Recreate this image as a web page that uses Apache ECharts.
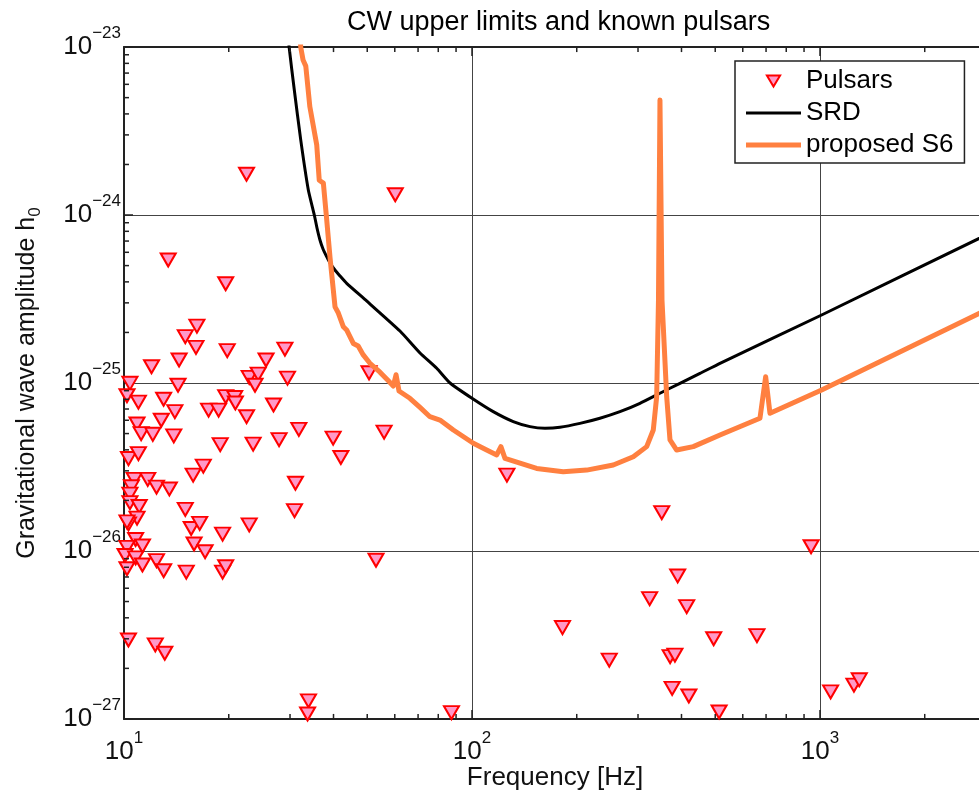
<!DOCTYPE html>
<html><head><meta charset="utf-8">
<script src="https://cdn.jsdelivr.net/npm/echarts/dist/echarts.min.js"></script>
<style>html,body{margin:0;padding:0;background:#fff}#c{width:979px;height:794px}#err{position:absolute;left:200px;top:300px;font:14px monospace;color:#00f;white-space:pre-wrap;width:700px}</style>
</head><body><div id="c"></div><div id="err"></div>
<script>
// ---- data ----
const pulsarFreq = [22.5, 60.2, 13.4, 19.6, 16.2, 15.0, 16.1, 14.4, 12.0, 19.8,
  29.0, 25.6, 50.6, 22.9, 24.3, 23.8, 29.5, 14.3, 10.4, 10.2,
  11.0, 13.0, 19.6, 20.8, 20.9, 14.0, 17.5, 18.7, 26.9, 22.5,
  12.8, 10.9, 11.2, 12.1, 13.9, 31.8, 55.9, 39.9, 27.9, 18.9,
  23.5, 42.0, 10.3, 11.0, 16.9, 15.8, 10.7, 11.7, 10.5, 12.4,
  13.5, 31.1, 10.4, 10.4, 11.06, 15.0, 30.9, 10.9, 10.3, 10.2,
  15.6, 16.5, 22.9, 19.2, 10.8, 10.2, 11.3, 15.9, 17.1, 10.07,
  10.8, 12.4, 11.3, 10.2, 13.0, 15.1, 19.2, 19.6, 53.0, 10.3,
  12.3, 13.1, 33.9, 33.7, 87.3, 351, 943, 390, 324, 414,
  182, 659, 495, 248, 371, 383, 376, 420, 513, 1073,
  1252, 1297, 126];
const pulsarH = [1.75e-24, 1.32e-24, 5.4e-25, 3.9e-25, 2.18e-25, 1.89e-25, 1.63e-25, 1.37e-25, 1.25e-25, 1.56e-25,
  1.59e-25, 1.37e-25, 1.15e-25, 1.08e-25, 1.13e-25, 9.7e-26, 1.07e-25, 9.7e-26, 9.96e-26, 8.4e-26,
  7.7e-26, 8.0e-26, 8.3e-26, 8.2e-26, 7.6e-26, 6.75e-26, 6.9e-26, 6.9e-26, 7.4e-26, 6.3e-26,
  6.0e-26, 5.7e-26, 5.0e-26, 4.95e-26, 4.84e-26, 5.3e-26, 5.1e-26, 4.7e-26, 4.6e-26, 4.3e-26,
  4.33e-26, 3.6e-26, 3.55e-26, 3.8e-26, 3.2e-26, 2.83e-26, 2.67e-26, 2.67e-26, 2.41e-26, 2.4e-26,
  2.34e-26, 2.53e-26, 2.18e-26, 1.94e-26, 1.84e-26, 1.77e-26, 1.74e-26, 1.57e-26, 1.45e-26, 1.49e-26,
  1.36e-26, 1.46e-26, 1.43e-26, 1.26e-26, 1.17e-26, 1.05e-26, 1.07e-26, 1.1e-26, 9.9e-27, 9.4e-27,
  9.1e-27, 8.76e-27, 8.25e-27, 7.84e-27, 7.63e-27, 7.48e-27, 7.48e-27, 8.06e-27, 8.8e-27, 2.95e-27,
  2.76e-27, 2.46e-27, 1.28e-27, 1.07e-27, 1.09e-27, 1.69e-26, 1.06e-26, 7.1e-27, 5.2e-27, 4.66e-27,
  3.5e-27, 3.13e-27, 3.0e-27, 2.24e-27, 2.35e-27, 2.4e-27, 1.52e-27, 1.37e-27, 1.1e-27, 1.45e-27,
  1.59e-27, 1.71e-27, 2.83e-26];

const srdFreq = [29.4, 29.85, 30.86, 32.2, 33.86, 35.23, 35.86, 36.57, 37.32, 38.23,
  39.08, 40.38, 41.76, 43.65, 49.8, 62.1, 70.9, 79.2, 86.5, 100,
  115.1, 131.4, 146.8, 162.1, 179.0, 204.3, 233.2, 266.2, 303.9, 346.8,
  396.0, 452.0, 516, 1011, 3000];
const srdH = [1.45e-23, 9.82e-24, 5.55e-24, 2.80e-24, 1.41e-24, 1.0e-24, 8.37e-25, 7.1e-25, 6.28e-25, 5.65e-25,
  5.18e-25, 4.71e-25, 4.34e-25, 3.92e-25, 3.08e-25, 2.04e-25, 1.51e-25, 1.224e-25, 1.0e-25, 8.11e-26,
  6.75e-26, 5.89e-26, 5.5e-26, 5.38e-26, 5.45e-26, 5.75e-26, 6.17e-26, 6.75e-26, 7.57e-26, 8.69e-26,
  9.96e-26, 1.14e-25, 1.31e-25, 2.54e-25, 7.6e-25];

const s6Freq = [31.9, 32.2, 32.7, 33.3, 34.2, 35.8, 36.4, 37.4, 38.2, 39.1,
  40.4, 41.3, 42.7, 43.7, 45.6, 47.1, 48.7, 50.9, 54.4, 57.5,
  59.4, 60.5, 61.7, 66.3, 70.9, 75.7, 80.9, 88.4, 100.9, 110.2,
  117.8, 121.1, 124.4, 137.4, 153.4, 182.9, 213.6, 254.7, 290.8, 317.7,
  331.9, 339.4, 343.5, 346.9, 351.6, 362.7, 370.7, 387.4, 432.4, 516,
  672.3, 698.2, 718.3, 1011, 3000];
const s6H = [1.45e-23, 1.0e-23, 8.37e-24, 7.7e-24, 4.42e-24, 2.61e-24, 1.61e-24, 1.55e-24, 9.59e-25, 5.55e-25,
  2.84e-25, 2.61e-25, 2.16e-25, 2.06e-25, 1.72e-25, 1.66e-25, 1.47e-25, 1.31e-25, 1.16e-25, 1.03e-25,
  9.6e-26, 1.12e-25, 8.96e-26, 8.11e-26, 7.15e-26, 6.3e-26, 6.02e-26, 5.25e-26, 4.38e-26, 3.99e-26,
  3.73e-26, 4.18e-26, 3.56e-26, 3.33e-26, 3.1e-26, 2.96e-26, 3.03e-26, 3.25e-26, 3.64e-26, 4.18e-26,
  5.25e-26, 8.28e-26, 3.12e-25, 4.84e-24, 3.12e-25, 8.28e-26, 4.58e-26, 3.99e-26, 4.18e-26, 4.9e-26,
  6.17e-26, 1.09e-25, 6.6e-26, 9.08e-26, 2.72e-25];

const xMinorTicks = [20, 30, 40, 50, 60, 70, 80, 90, 200, 300, 400, 500, 600, 700, 800, 900, 2000];
const yMinorTicks = [2e-27, 3e-27, 4e-27, 5e-27, 6e-27, 7e-27, 8e-27, 9e-27,
  2e-26, 3e-26, 4e-26, 5e-26, 6e-26, 7e-26, 8e-26, 9e-26,
  2e-25, 3e-25, 4e-25, 5e-25, 6e-25, 7e-25, 8e-25, 9e-25,
  2e-24, 3e-24, 4e-24, 5e-24, 6e-24, 7e-24, 8e-24, 9e-24];

const X_MIN = 10, X_MAX = 3000;
// slightly outside the decades so the library's end-of-range rounding does not hit the decade ticks
const Y_MIN = 9.99e-28, Y_MAX = 1.001e-23;
const Y_BOT = 1e-27, Y_TOP = 1e-23;
const FONT = "'Liberation Sans', Arial, Helvetica, sans-serif";
const AXC = '#222';

function decadeLabel(v) {
  if (!(v > 0)) return '';
  const l = Math.log10(v);
  if (!isFinite(l)) return '';
  const e = Math.round(l);
  if (Math.abs(l - e) > 1e-6) return '';
  return '{b|10}{s|' + (e < 0 ? '\u2212' + (-e) : String(e)) + '}';
}
const labelRich = {
  b: { fontSize: 26, lineHeight: 44, fontFamily: FONT, color: '#111' },
  s: { fontSize: 17, verticalAlign: 'top', fontFamily: FONT, color: '#111' }
};

const chart = echarts.init(document.getElementById('c'), null, { renderer: 'canvas' });

const tickData = xMinorTicks.map(v => [v, Y_BOT, 0]).concat(yMinorTicks.map(v => [X_MIN, v, 1]));

try {
chart.setOption({
  animation: false,
  backgroundColor: '#fff',
  title: {
    text: 'CW upper limits and known pulsars',
    left: 342, top: 4,
    textStyle: { fontSize: 27, fontWeight: 'normal', color: '#000', fontFamily: FONT }
  },
  legend: {
    data: [
      { name: 'Pulsars', icon: 'path://M0,0L12,0L6,10Z' },
      { name: 'SRD', icon: 'path://M0,0H55V3H0Z', itemStyle: { color: '#000', borderWidth: 0 } },
      { name: 'proposed S6', icon: 'path://M0,0H55V5H0Z', itemStyle: { color: '#ff8040', borderWidth: 0 } }
    ],
    orient: 'vertical', left: 735, top: 61,
    padding: [5, 11, 3, 11],
    itemWidth: 55, itemHeight: 11, itemGap: 2,
    backgroundColor: '#fff', borderColor: AXC, borderWidth: 1.5, borderRadius: 0,
    selectedMode: false,
    textStyle: { fontSize: 26, lineHeight: 30, color: '#000', fontFamily: FONT }
  },
  grid: { left: 124, top: 47, right: -7, bottom: 75, containLabel: false, outerBoundsMode: 'none' },
  xAxis: [{
    type: 'log', min: X_MIN, max: X_MAX, position: 'bottom',
    name: 'Frequency [Hz]', nameLocation: 'middle', nameGap: 46, nameMoveOverlap: false,
    nameTextStyle: { fontSize: 26, color: '#111', fontFamily: FONT },
    axisLine: { show: true, lineStyle: { color: AXC, width: 2 } },
    axisTick: { show: true, inside: true, length: 9, lineStyle: { color: AXC, width: 1.5 } },
    axisLabel: { margin: 11, formatter: decadeLabel, rich: labelRich },
    splitLine: { show: true, lineStyle: { color: '#444', width: 1 } }
  }, {
    type: 'log', min: X_MIN, max: X_MAX, position: 'top',
    axisLine: { show: true, lineStyle: { color: AXC, width: 2 } },
    axisTick: { show: true, inside: true, length: 9, lineStyle: { color: AXC, width: 1.5 } },
    axisLabel: { show: false },
    splitLine: { show: false }
  }],
  yAxis: [{
    type: 'log', min: Y_MIN, max: Y_MAX,
    name: '{a|Gravitational wave amplitude h}{s|0}', nameLocation: 'middle', nameGap: 80,
    nameMoveOverlap: false,
    nameTextStyle: {
      fontSize: 25, color: '#111', fontFamily: FONT,
      rich: {
        a: { fontSize: 25, lineHeight: 34, color: '#111', fontFamily: FONT },
        s: { fontSize: 17, verticalAlign: 'bottom', color: '#111', fontFamily: FONT }
      }
    },
    axisLine: { show: true, lineStyle: { color: AXC, width: 2 } },
    axisTick: { show: true, inside: true, length: 9, lineStyle: { color: AXC, width: 1.5 } },
    axisLabel: { margin: 3, formatter: decadeLabel, rich: labelRich },
    splitLine: { show: true, lineStyle: { color: '#444', width: 1 } }
  }],
  series: [{
    name: 'Pulsars', type: 'scatter',
    data: pulsarFreq.map((f, i) => [f, pulsarH[i]]),
    symbol: 'triangle', symbolRotate: 180, symbolSize: [15, 13],
    itemStyle: { color: '#ff99c8', borderColor: '#ff0000', borderWidth: 2, opacity: 1 },
    z: 2
  }, {
    name: 'SRD', type: 'line',
    data: srdFreq.map((f, i) => [f, srdH[i]]),
    symbol: 'none', showSymbol: false, smooth: 0.15,
    itemStyle: { color: '#000' },
    lineStyle: { color: '#000', width: 3, join: 'round' },
    z: 3
  }, {
    name: 'proposed S6', type: 'line',
    data: s6Freq.map((f, i) => [f, s6H[i]]),
    symbol: 'none', showSymbol: false,
    itemStyle: { color: '#ff8040' },
    lineStyle: { color: '#ff8040', width: 5, join: 'round' },
    z: 4
  }, {
    name: 'minorTicks', type: 'custom',
    data: tickData,
    silent: true, z: 5,
    renderItem: function (params, api) {
      const st = { stroke: AXC, lineWidth: 1.5 };
      if (api.value(2) === 0) {
        const v = api.value(0);
        const b = api.coord([v, Y_BOT]);
        const t = api.coord([v, Y_TOP]);
        return { type: 'group', children: [
          { type: 'line', shape: { x1: b[0], y1: b[1], x2: b[0], y2: b[1] - 5 }, style: st },
          { type: 'line', shape: { x1: t[0], y1: t[1], x2: t[0], y2: t[1] + 5 }, style: st }
        ] };
      }
      const l = api.coord([X_MIN, api.value(1)]);
      return { type: 'line', shape: { x1: l[0], y1: l[1], x2: l[0] + 5, y2: l[1] }, style: st };
    }
  }]
});
} catch (e) {
  document.getElementById('err').textContent = String(e && e.stack || e);
}
</script></body></html>
